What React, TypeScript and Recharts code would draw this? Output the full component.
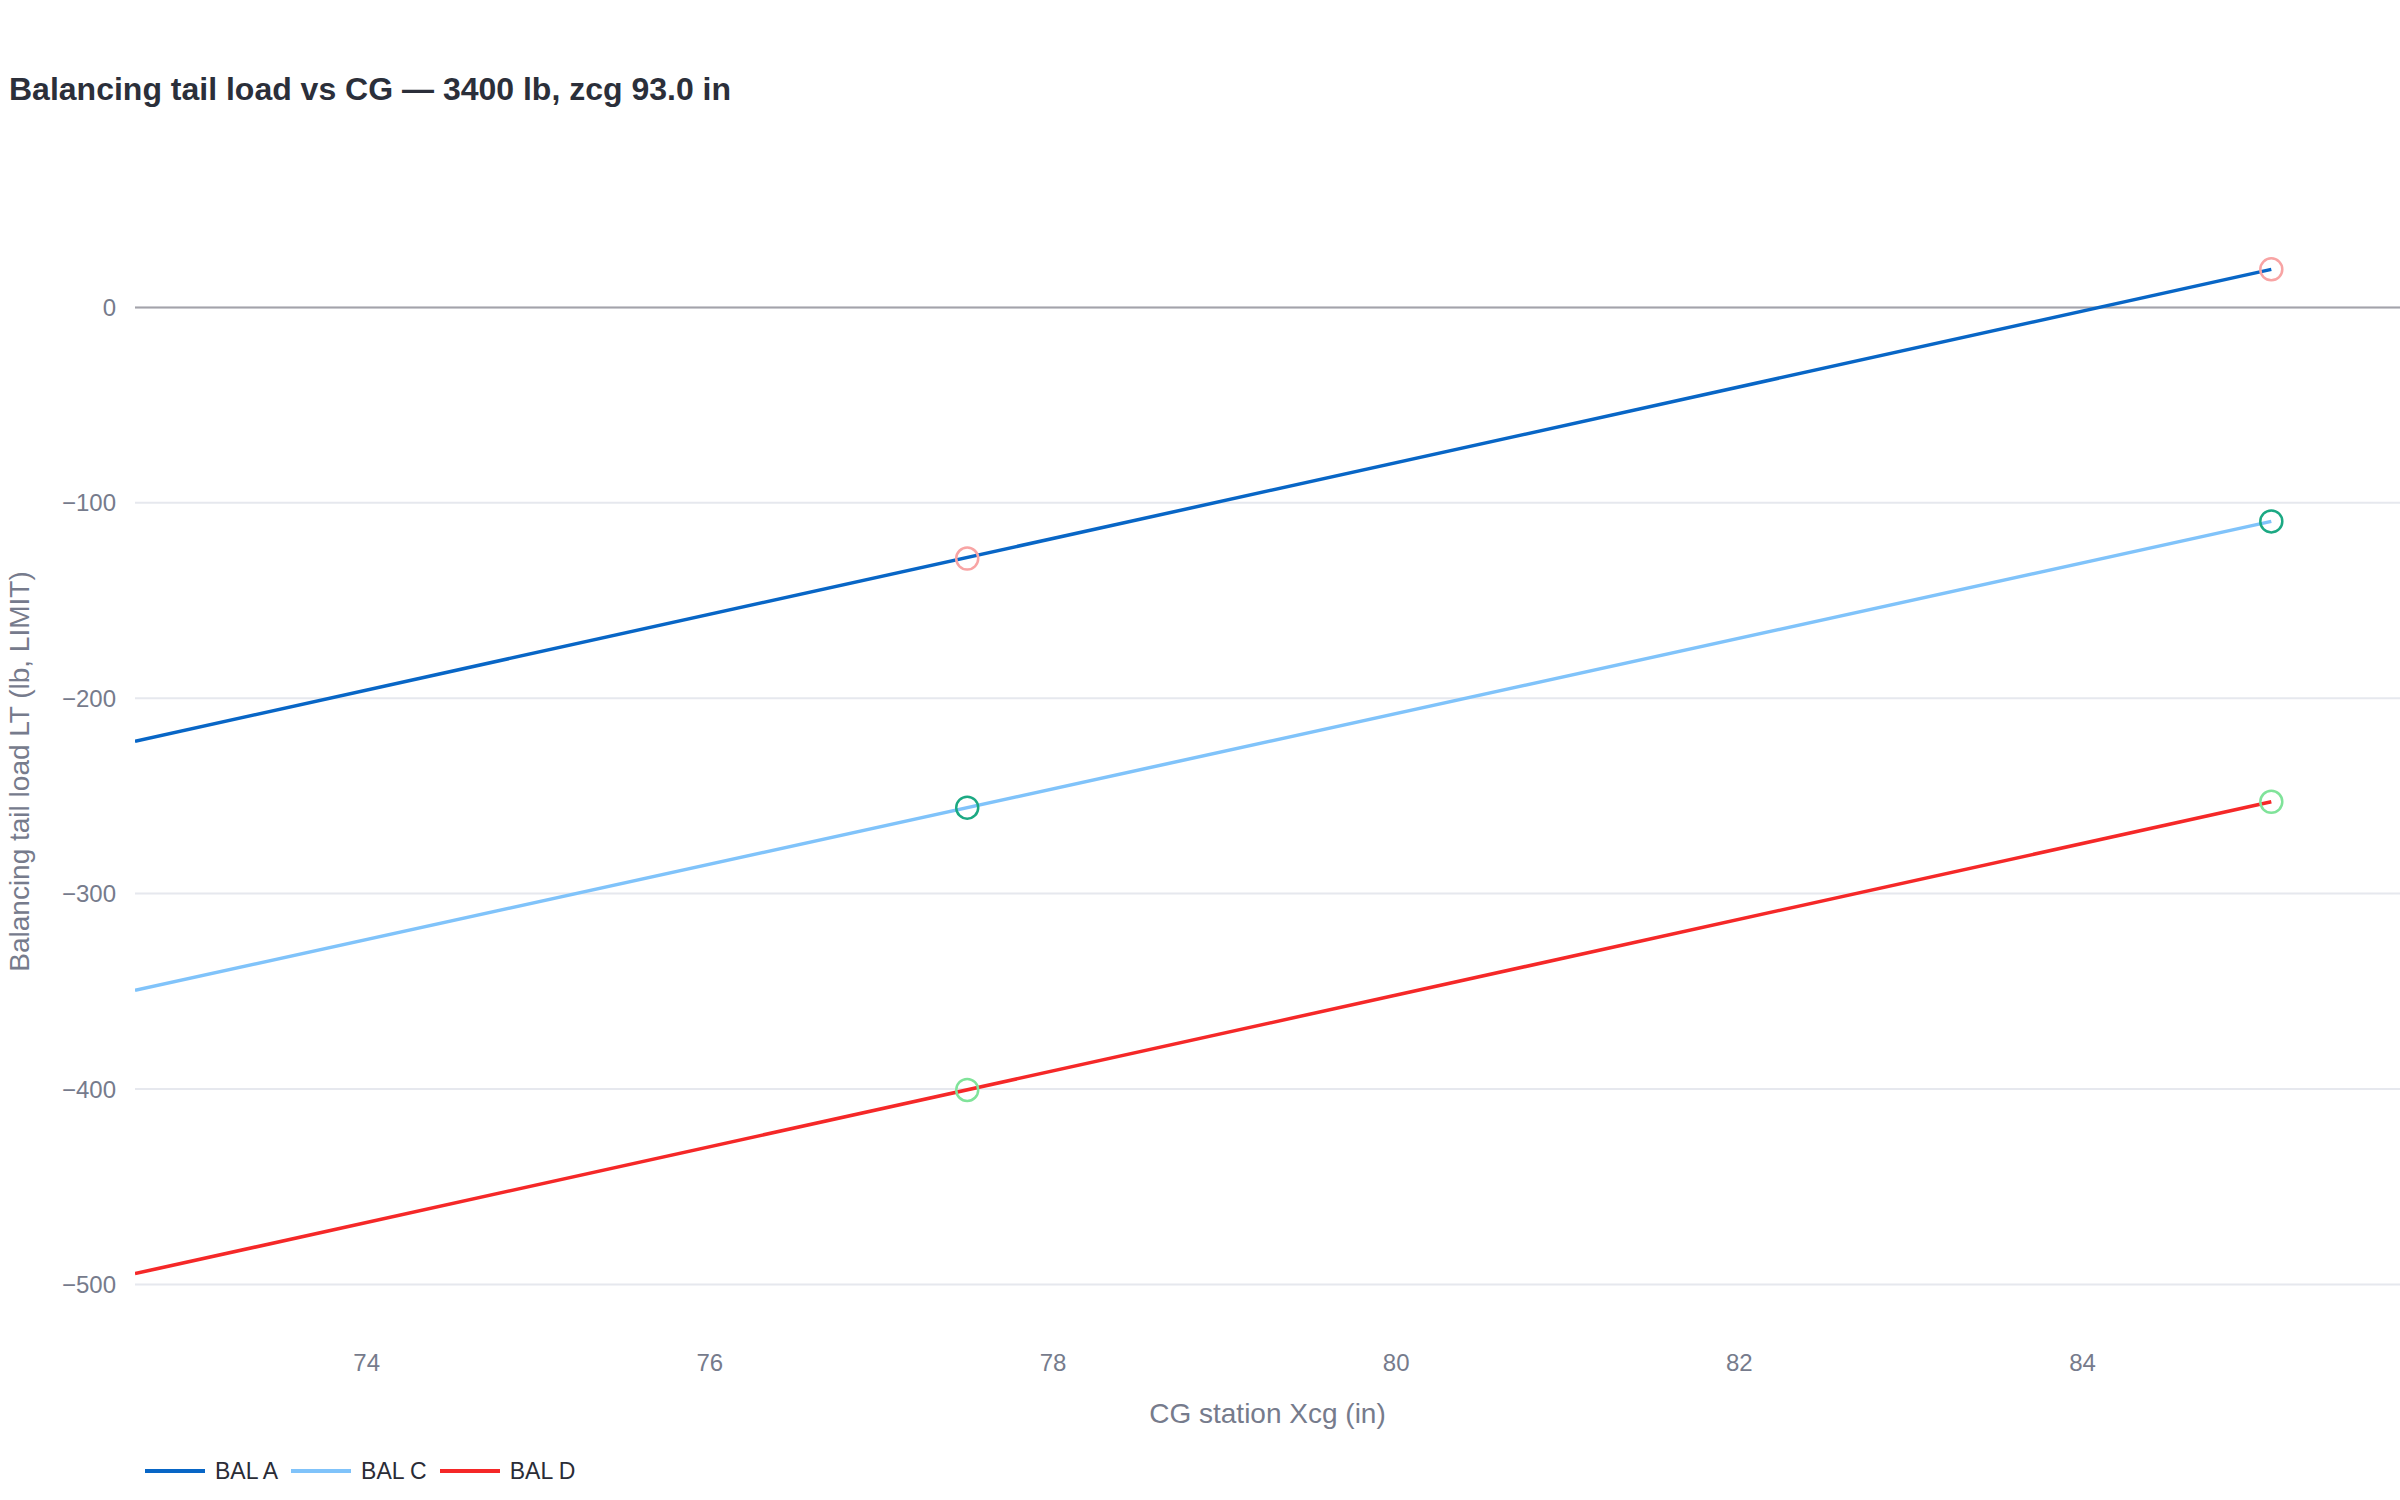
import React from "react";
import {
  ComposedChart, Line, Scatter, XAxis, YAxis, CartesianGrid,
  ReferenceLine, Legend, Label,
} from "recharts";

// CG stations (in) where the lines start/end
const lineX = [72.65, 85.1];
const balA = [-222, 19.5];
const balC = [-349.5, -109.5];
const balD = [-494.5, -253];

// limit points (open circles)
const limitX = [77.5, 85.1];
const limitA = [-128.5, 19.5];
const limitC = [-256, -109.5];
const limitD = [-400.5, -253];

const xTicks = [74, 76, 78, 80, 82, 84];
const yTicks = [-500, -400, -300, -200, -100, 0];

const FONT = '"Liberation Sans", Arial, Helvetica, sans-serif';
const TICK = "#767b8c";

const series = [
  { name: "BAL A", color: "#0866c6", ys: balA },
  { name: "BAL C", color: "#80c3fa", ys: balC },
  { name: "BAL D", color: "#f52828", ys: balD },
];

const limits = [
  { key: "limA", color: "#f8a4a4", ys: limitA },
  { key: "limC", color: "#1ca983", ys: limitC },
  { key: "limD", color: "#80e39a", ys: limitD },
];

const toPts = (xs: number[], ys: number[]) => xs.map((x, i) => ({ x, y: ys[i] }));

const minus = (v: number) => String(v).replace("-", "\u2212");

function LegendBox() {
  return (
    <div style={{ height: 30, display: "flex", alignItems: "center", paddingLeft: 145, fontFamily: FONT, fontSize: 23, color: "#2a2c36" }}>
      {series.map((s) => (
        <span key={s.name} style={{ display: "flex", alignItems: "center", marginRight: 13 }}>
          <svg width={60} height={10} style={{ marginRight: 10 }}>
            <line x1={0} y1={5} x2={60} y2={5} stroke={s.color} strokeWidth={4} />
          </svg>
          {s.name}
        </span>
      ))}
    </div>
  );
}

export default function App() {
  return (
    <div style={{ position: "absolute", left: 0, top: 0, width: 2400, height: 1500, background: "#fff" }}>
      <div style={{ position: "absolute", left: 9, top: 69, fontFamily: FONT, fontSize: 32, fontWeight: 700, color: "#2b2f3a", lineHeight: "40px" }}>
        Balancing tail load vs CG — 3400 lb, zcg 93.0 in
      </div>
      <ComposedChart width={2400} height={1500} margin={{ top: 200, right: 0, bottom: 14, left: 0 }}>
        <CartesianGrid vertical={false} horizontalValues={yTicks} stroke="#e6e8ee" strokeWidth={2} />
        <XAxis
          type="number" dataKey="x" domain={[72.65, 85.85]} ticks={xTicks} allowDataOverflow
          axisLine={false} tickLine={false} height={113} tickMargin={5}
          tick={{ fill: TICK, fontSize: 24, fontFamily: FONT }}
        >
          <Label
            content={({ viewBox }: any) => (
              <text x={viewBox.x + viewBox.width / 2} y={1413} textAnchor="middle" dominantBaseline="central"
                fill={TICK} fontSize={28} fontFamily={FONT}>CG station Xcg (in)</text>
            )}
          />
        </XAxis>
        <YAxis
          type="number" domain={[-530, 55]} ticks={yTicks} allowDataOverflow
          axisLine={false} tickLine={false} width={135} tickMargin={13}
          tickFormatter={minus}
          tick={{ fill: TICK, fontSize: 24, fontFamily: FONT }}
        >
          <Label
            content={({ viewBox }: any) => (
              <text x={19} y={viewBox.y + viewBox.height / 2} transform={`rotate(-90 19 ${viewBox.y + viewBox.height / 2})`}
                textAnchor="middle" dominantBaseline="central" fill={TICK} fontSize={28} fontFamily={FONT}>
                Balancing tail load LT (lb, LIMIT)
              </text>
            )}
          />
        </YAxis>
        <ReferenceLine y={0} stroke="#a3a3aa" strokeWidth={2} />
        {series.map((s) => (
          <Line key={s.name} data={toPts(lineX, s.ys)} dataKey="y" name={s.name} type="linear"
            stroke={s.color} strokeWidth={3.5} dot={false} activeDot={false} isAnimationActive={false} />
        ))}
        {limits.map((l) => (
          <Scatter key={l.key} data={toPts(limitX, l.ys)} dataKey="y" legendType="none" isAnimationActive={false}
            shape={(p: any) => <circle cx={p.cx} cy={p.cy} r={11} fill="none" stroke={l.color} strokeWidth={2.5} />} />
        ))}
        <Legend verticalAlign="bottom" align="left" content={() => <LegendBox />} />
      </ComposedChart>
    </div>
  );
}
